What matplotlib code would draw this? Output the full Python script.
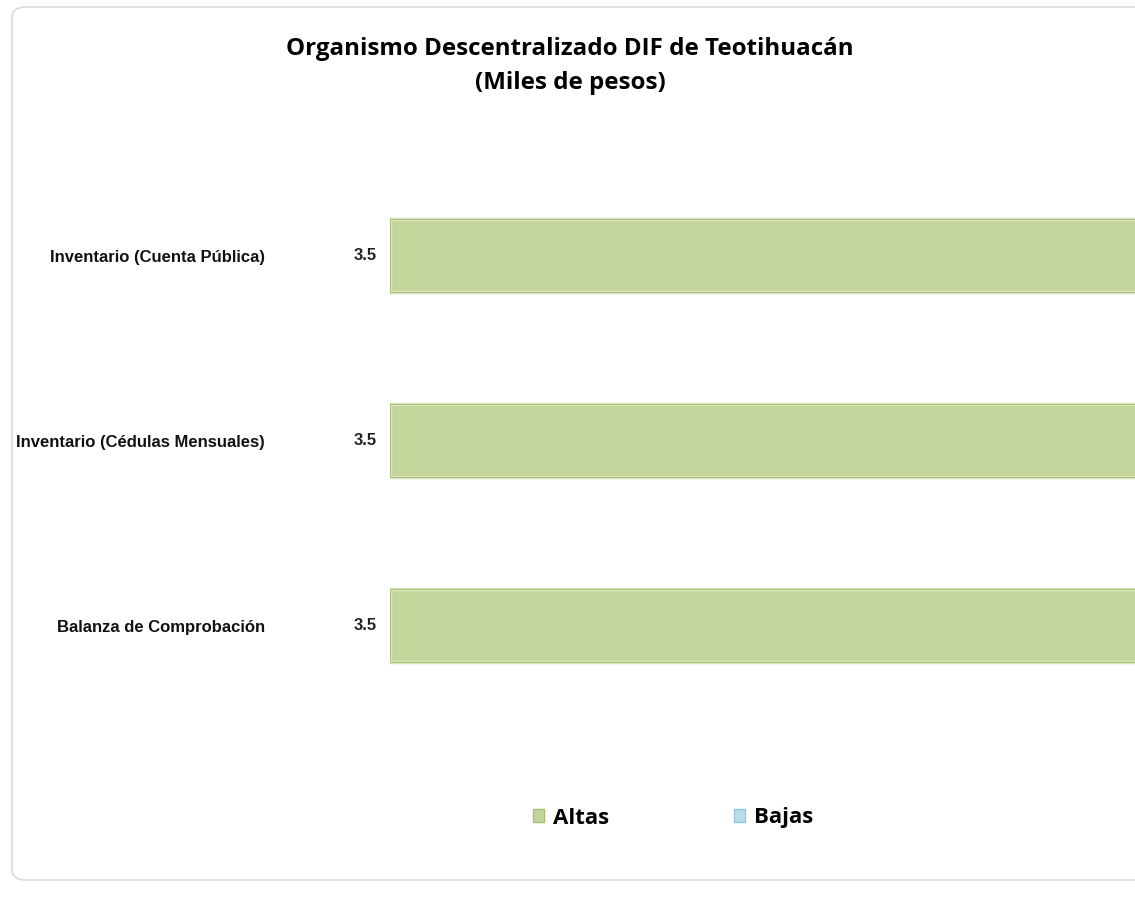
import matplotlib
matplotlib.use("Agg")
import matplotlib.pyplot as plt
from matplotlib.patches import FancyBboxPatch, Patch

categories = ["Inventario (Cuenta Pública)", "Inventario (Cédulas Mensuales)", "Balanza de Comprobación"]
altas = [3.5, 3.5, 3.5]
bajas = [0.0, 0.0, 0.0]
value_labels = ["3.5", "3.5", "3.5"]
title = "Organismo Descentralizado DIF de Teotihuacán\n(Miles de pesos)"

W, H = 1135, 907
fig = plt.figure(figsize=(W / 100, H / 100), dpi=100)
fig.patch.set_facecolor("white")

# rounded chart frame
frame = FancyBboxPatch((12 / W, 1 - 880 / H), (W + 40 - 12) / W, (880 - 7) / H,
                       boxstyle="round,pad=0,rounding_size=0.012",
                       transform=fig.transFigure, facecolor="white",
                       edgecolor="#dcdcdc", linewidth=1.2, zorder=-10)
fig.patches.append(frame)

ax_left = 390 / W
ax = fig.add_axes([ax_left, 1 - 718 / H, 1.0 - ax_left + 0.002, (718 - 163) / H])
ax.set_facecolor("none")
ax.set_zorder(5)

y = list(range(len(categories)))
bars_a = ax.barh(y, altas, height=0.395, left=0, color="#c3d59b",
                 edgecolor="#dbe8bf", linewidth=2.5, label="Altas", zorder=3)
bars_b = ax.barh(y, bajas, height=0.395, left=0, color="#b7dde8",
                 edgecolor="#d5ecf2", linewidth=0, label="Bajas", zorder=2)
# thin darker outline around altas bars
for b in bars_a:
    x0, y0 = b.get_x(), b.get_y()
    ax.add_patch(plt.Rectangle((x0, y0), b.get_width(), b.get_height(), fill=False,
                               edgecolor="#a9c07a", linewidth=0.8, zorder=4))

ax.set_xlim(0, 3.2)
ax.set_ylim(len(categories) - 0.5, -0.5)
for s in ax.spines.values():
    s.set_visible(False)
ax.set_xticks([])
ax.set_yticks(y)
ax.set_yticklabels(categories, fontfamily="Liberation Sans", fontweight="bold",
                   fontsize=12, color="#111111")
ax.tick_params(axis="y", length=0, pad=90)

for yi, lab in zip(y, value_labels):
    ax.annotate(lab, (0, yi), xytext=(-9.5, 0), textcoords="offset points",
                ha="right", va="center", fontfamily="Liberation Sans",
                fontweight="bold", fontsize=12, color="#222222")

fig.text(570 / W, 1 - 66 / H, title, ha="center", va="center",
         fontfamily="Open Sans", fontweight="bold", fontsize=17.4,
         linespacing=1.55, color="black", zorder=6)

handles = [Patch(facecolor="#c3d59b", edgecolor="#a9c07a"),
           Patch(facecolor="#b7dde8", edgecolor="#93c6d6")]
leg = fig.legend(handles, ["Altas", "Bajas"], loc="center",
                 bbox_to_anchor=(673 / W, 1 - 818 / H), ncol=2, frameon=False,
                 prop={"family": "Open Sans", "weight": "bold", "size": 16},
                 handlelength=0.5, handleheight=0.5, handletextpad=0.4,
                 columnspacing=5.6)
leg.set_zorder(6)

fig.savefig("out.png", dpi=100, facecolor="white")
